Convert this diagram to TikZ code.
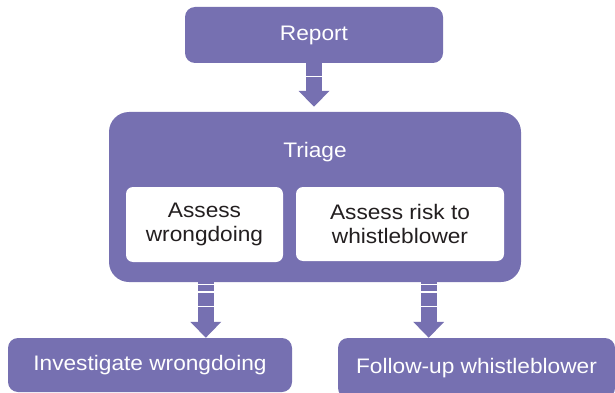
\documentclass[tikz,border=0pt]{standalone}
\usepackage{fontspec}
\setmainfont{Liberation Sans}[FakeStretch=1.08]
\usepackage{tikz}
\usetikzlibrary{arrows.meta}
\usetikzlibrary{calc}
\definecolor{boxpurple}{RGB}{118,112,177}
\definecolor{inktext}{RGB}{35,31,32}
\tikzset{x=1pt, y=-1pt, % one unit is one pixel of the sketch, y runs downwards
every node/.style={ % Sets the properties for each box
inner sep=0pt,
align=center,
font=\fontsize{21}{24}\selectfont},
stage/.style={ % purple boxes
fill=boxpurple,
text=white,
rounded corners=10pt},
task/.style={ % white boxes inside the triage box
fill=white,
text=inktext,
rounded corners=7pt},
flow/.style={ % Thick block arrows between the stages
draw=boxpurple,
line width=16pt,
-{Triangle[width=30pt,length=16pt]}},
gap/.style={ % White splits across the arrow shafts
draw=white,
line width=1.5pt}}

\begin{document}
\begin{tikzpicture}
				\useasboundingbox (0,0) rectangle (615,393);

				\node[stage, minimum width=258pt, minimum height=56pt] (report) at (314,35) {Report};
				\node[stage, rounded corners=20pt, minimum width=412pt, minimum height=170pt] (triage) at (315,197) {};
				\node[text=white] (triagetxt) at (315,152) {Triage};
				\node[task, minimum width=157pt, minimum height=75pt] (assessw) at (204.5,224.5) {Assess\\wrongdoing};
				\node[task, minimum width=208pt, minimum height=74pt] (assessr) at (400,224) {Assess risk to\\whistleblower};
				\node[stage, minimum width=284pt, minimum height=54pt] (invest) at (150,365) {Investigate wrongdoing};
				\node[stage, minimum width=277pt, minimum height=60pt] (follow) at (476.5,368) {Follow-up whistleblower};

				\coordinate (ltop) at ([xshift=97pt]triage.south west);
				\coordinate (lend) at (ltop |- invest.north);
				\coordinate (rtop) at ([xshift=-92.5pt]triage.south east);
				\coordinate (rend) at (rtop |- invest.north);

				\draw[flow, shorten >=5pt] (report.south) -- (report.south |- triage.north);
				\draw[flow] (ltop) -- (lend);
				\draw[flow] (rtop) -- (rend);

				\draw[gap] ($(report.south)+(-9,13.5)$) -- ++(18,0);
				\foreach \dy in {2.5,10,24.5}{
					\draw[gap] ($(ltop)+(-9,\dy)$) -- ++(18,0);
					\draw[gap] ($(rtop)+(-9,\dy)$) -- ++(18,0);
				}
			\end{tikzpicture}
\end{document}
